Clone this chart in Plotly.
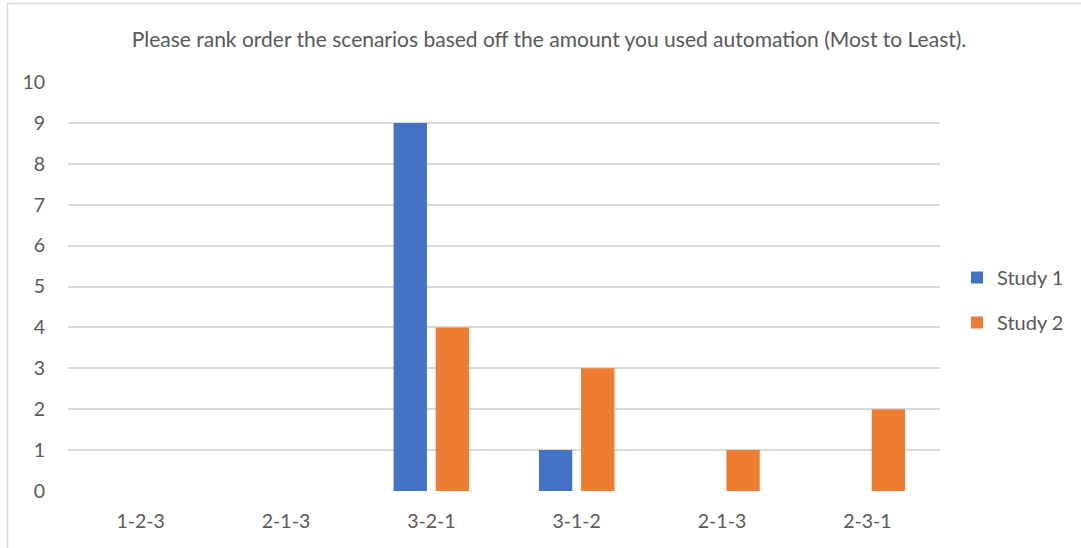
import plotly.graph_objects as go

# Ranking orders (one label appears twice in the survey summary)
categories = ["1-2-3", "2-1-3", "3-2-1", "3-1-2", "2-1-3", "2-3-1"]
study1 = [0, 0, 9, 1, 0, 0]
study2 = [0, 0, 4, 3, 1, 2]
y_ticks = list(range(0, 11))

positions = list(range(len(categories)))

FONT = "Lato, Open Sans, sans-serif"
GREY_TEXT = "#595959"

fig = go.Figure()
fig.add_trace(go.Bar(x=positions, y=study1, name="Study 1", legendgroup="s1",
                     marker=dict(color="#4472C4", line=dict(width=0))))
fig.add_trace(go.Bar(x=positions, y=study2, name="Study 2", legendgroup="s2",
                     marker=dict(color="#ED7D31", line=dict(width=0))))

W, H = 1081, 548
L, R, T, B = 68, 141, 82, 57
pw, ph = W - L - R, H - T - B


def px_x(px):
    return (px - L) / pw


def px_y(py):
    return (H - B - py) / ph


fig.update_layout(
    width=W, height=H,
    margin=dict(l=L, r=R, t=T, b=B, autoexpand=False),
    paper_bgcolor="white", plot_bgcolor="white",
    barmode="group", bargap=0.42, bargroupgap=0.21,
    font=dict(family=FONT, color=GREY_TEXT, size=19),
    title=dict(text="Please rank order the scenarios based off the amount you used automation (Most to Least).",
               x=549 / W, xref="container", xanchor="center",
               y=1 - 40 / H, yref="container", yanchor="middle",
               font=dict(family=FONT, size=21, color=GREY_TEXT)),
    xaxis=dict(tickmode="array", tickvals=positions, ticktext=categories,
               range=[-0.5, len(categories) - 0.5],
               showgrid=False, zeroline=False, showline=False,
               ticks="outside", ticklen=13, tickcolor="rgba(0,0,0,0)",
               tickfont=dict(size=19.5, color=GREY_TEXT)),
    yaxis=dict(tickmode="array", tickvals=y_ticks, range=[0, 10],
               showgrid=True, gridcolor="#d9d9d9", gridwidth=1.5,
               zeroline=False, showline=False,
               ticks="outside", ticklen=18, tickcolor="rgba(0,0,0,0)",
               tickfont=dict(size=19.5, color=GREY_TEXT)),
    legend=dict(x=px_x(957), y=px_y(300), xanchor="left", yanchor="middle",
                font=dict(size=20, color=GREY_TEXT),
                itemwidth=30, tracegroupgap=16, bgcolor="rgba(0,0,0,0)",
                traceorder="grouped"),
    shapes=[dict(type="rect", xref="paper", yref="paper",
                 x0=px_x(7.5), x1=px_x(1086), y0=px_y(553), y1=px_y(3.5),
                 line=dict(color="#d9d9d9", width=1.5), fillcolor="rgba(0,0,0,0)",
                 layer="below")],
)

fig.write_html("out.html")
